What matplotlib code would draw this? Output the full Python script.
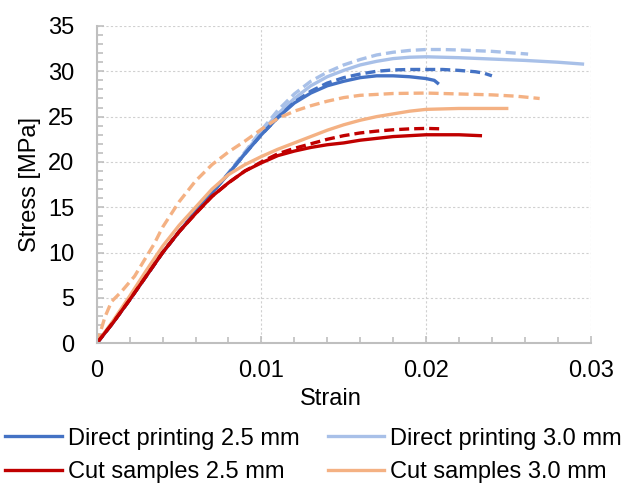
import matplotlib
matplotlib.use("Agg")
import matplotlib.pyplot as plt
from matplotlib.ticker import MultipleLocator
from matplotlib.lines import Line2D

plt.rcParams['font.family'] = ['Liberation Sans', 'DejaVu Sans']

# Direct printing 2.5 mm (solid)
dp25_x = [0, 0.001, 0.002, 0.003, 0.004, 0.005, 0.006, 0.007, 0.008, 0.009, 0.010, 0.011, 0.012,
          0.013, 0.014, 0.015, 0.016, 0.017, 0.018, 0.019, 0.020, 0.0205, 0.0207]
dp25_y = [0, 2.3, 4.8, 7.4, 10.0, 12.3, 14.5, 16.6, 18.7, 20.9, 23.0, 24.9, 26.5,
          27.6, 28.4, 28.9, 29.3, 29.5, 29.5, 29.4, 29.2, 29.0, 28.7]
# Direct printing 2.5 mm (dashed)
dp25d_x = [0, 0.001, 0.002, 0.003, 0.004, 0.005, 0.006, 0.007, 0.008, 0.009, 0.010, 0.011, 0.012,
           0.013, 0.014, 0.015, 0.016, 0.017, 0.018, 0.019, 0.020, 0.021, 0.022, 0.023, 0.0235, 0.024]
dp25d_y = [0, 2.3, 4.8, 7.4, 10.0, 12.3, 14.5, 16.6, 18.7, 20.9, 23.0, 24.9, 26.6,
           27.8, 28.7, 29.3, 29.7, 30.0, 30.15, 30.2, 30.2, 30.2, 30.1, 29.95, 29.8, 29.5]
# Direct printing 3.0 mm (solid)
dp30_x = [0, 0.001, 0.002, 0.003, 0.004, 0.005, 0.006, 0.007, 0.008, 0.009, 0.010, 0.011, 0.012,
          0.013, 0.014, 0.015, 0.016, 0.017, 0.018, 0.019, 0.020, 0.022, 0.024, 0.026, 0.028, 0.0295]
dp30_y = [0, 2.3, 4.8, 7.4, 10.0, 12.3, 14.5, 16.6, 18.7, 21.0, 23.3, 25.3, 27.0,
          28.4, 29.4, 30.1, 30.7, 31.1, 31.4, 31.55, 31.6, 31.5, 31.35, 31.2, 31.0, 30.8]
# Direct printing 3.0 mm (dashed)
dp30d_x = [0, 0.001, 0.002, 0.003, 0.004, 0.005, 0.006, 0.007, 0.008, 0.009, 0.010, 0.011, 0.012,
           0.013, 0.014, 0.015, 0.016, 0.017, 0.018, 0.019, 0.020, 0.021, 0.022, 0.024, 0.0262]
dp30d_y = [0, 2.3, 4.8, 7.4, 10.0, 12.3, 14.5, 16.6, 18.8, 21.1, 23.5, 25.7, 27.5,
           28.9, 29.9, 30.7, 31.3, 31.8, 32.1, 32.3, 32.4, 32.4, 32.35, 32.2, 31.9]
# Cut samples 2.5 mm (solid)
cs25_x = [0, 0.001, 0.002, 0.003, 0.004, 0.005, 0.006, 0.007, 0.008, 0.009, 0.010, 0.011, 0.012,
          0.013, 0.014, 0.015, 0.016, 0.018, 0.020, 0.022, 0.0233]
cs25_y = [0, 2.3, 4.8, 7.4, 10.0, 12.3, 14.3, 16.2, 17.7, 19.0, 19.9, 20.7, 21.2,
          21.6, 21.9, 22.1, 22.4, 22.8, 23.0, 23.0, 22.9]
# Cut samples 2.5 mm (dashed)
cs25d_x = [0, 0.001, 0.002, 0.003, 0.004, 0.005, 0.006, 0.007, 0.008, 0.009, 0.010, 0.011, 0.012,
           0.013, 0.014, 0.015, 0.016, 0.017, 0.018, 0.019, 0.020, 0.021]
cs25d_y = [0, 2.3, 4.8, 7.4, 10.0, 12.3, 14.3, 16.2, 17.7, 19.0, 20.0, 20.9, 21.5,
           22.0, 22.5, 22.9, 23.2, 23.4, 23.55, 23.65, 23.7, 23.65]
# Cut samples 3.0 mm (solid)
cs30_x = [0, 0.001, 0.002, 0.003, 0.004, 0.005, 0.006, 0.007, 0.008, 0.009, 0.010, 0.011, 0.012,
          0.013, 0.014, 0.015, 0.016, 0.017, 0.018, 0.019, 0.020, 0.022, 0.0249]
cs30_y = [0, 2.5, 5.2, 8.0, 10.7, 13.0, 15.0, 17.0, 18.6, 19.7, 20.6, 21.4, 22.1,
          22.8, 23.5, 24.1, 24.6, 25.0, 25.3, 25.6, 25.8, 25.9, 25.9]
# Cut samples 3.0 mm (dashed)
cs30d_x = [0, 0.0002, 0.0005, 0.0009, 0.0015, 0.0023, 0.003, 0.0035, 0.004, 0.005, 0.006, 0.007,
           0.008, 0.009, 0.010, 0.011, 0.012, 0.013, 0.014, 0.015, 0.016, 0.018, 0.020, 0.022,
           0.024, 0.0255, 0.0269]
cs30d_y = [0, 1.1, 2.9, 4.6, 5.7, 7.4, 9.5, 11.0, 12.8, 15.6, 17.9, 19.7,
           21.1, 22.3, 23.6, 24.8, 25.6, 26.2, 26.7, 27.1, 27.35, 27.55, 27.6, 27.5,
           27.4, 27.25, 27.0]

labels = ["Direct printing 2.5 mm", "Direct printing 3.0 mm",
          "Cut samples 2.5 mm", "Cut samples 3.0 mm"]
c_dp25, c_dp30, c_cs25, c_cs30 = "#4472C4", "#A8C0E8", "#C00000", "#F4B183"

fig = plt.figure(figsize=(6.28, 4.86), dpi=100)
ax = fig.add_axes([0.154, 0.2936, 0.7866, 0.653])

lw = 2.4
dash = (3.0, 1.5)
ax.plot(dp30d_x, dp30d_y, color=c_dp30, lw=lw, dashes=dash)
ax.plot(dp30_x, dp30_y, color=c_dp30, lw=lw)
ax.plot(dp25d_x, dp25d_y, color=c_dp25, lw=lw, dashes=dash)
ax.plot(dp25_x, dp25_y, color=c_dp25, lw=lw)
ax.plot(cs30d_x, cs30d_y, color=c_cs30, lw=lw, dashes=dash)
ax.plot(cs30_x, cs30_y, color=c_cs30, lw=lw)
ax.plot(cs25d_x, cs25d_y, color=c_cs25, lw=lw, dashes=dash)
ax.plot(cs25_x, cs25_y, color=c_cs25, lw=lw)

ax.set_xlim(0, 0.03)
ax.set_ylim(0, 35)
ax.xaxis.set_minor_locator(MultipleLocator(0.002))
ax.yaxis.set_major_locator(MultipleLocator(5))
ax.yaxis.set_minor_locator(MultipleLocator(1))
ax.set_xticks([0, 0.01, 0.02, 0.03])
ax.set_xticklabels(["0", "0.01", "0.02", "0.03"])

ax.grid(True, which='major', color='#D0D0D0', linestyle=(0, (2, 2)), linewidth=0.8)
for s in ['top', 'right']:
    ax.spines[s].set_visible(False)
for s in ['left', 'bottom']:
    ax.spines[s].set_color('#BFBFBF')
    ax.spines[s].set_linewidth(1.5)
ax.tick_params(which='both', direction='in', color='#BFBFBF', width=1.2, labelsize=17,
               labelcolor='black')
ax.tick_params(which='major', length=5)
ax.tick_params(which='minor', length=4)
ax.tick_params(axis='x', which='major', pad=12)
ax.tick_params(axis='y', which='major', pad=16)

ax.set_xlabel("Strain", fontsize=17)
ax.xaxis.set_label_coords(0.474, -0.14)
ax.set_ylabel("Stress [MPa]", fontsize=17)
ax.yaxis.set_label_coords(-0.112, 0.5)

colors = [c_dp25, c_cs25, c_dp30, c_cs30]
order = [labels[0], labels[2], labels[1], labels[3]]
handles = [Line2D([], [], color=c, lw=2.4) for c in colors]
fig.legend(handles, order, ncol=2, loc='upper left', bbox_to_anchor=(0.008, 0.12),
           frameon=False, fontsize=17, handlelength=2.4, handletextpad=0.25,
           columnspacing=1.2, labelspacing=0.5, borderaxespad=0, borderpad=0)

fig.savefig("out.png", dpi=100)
